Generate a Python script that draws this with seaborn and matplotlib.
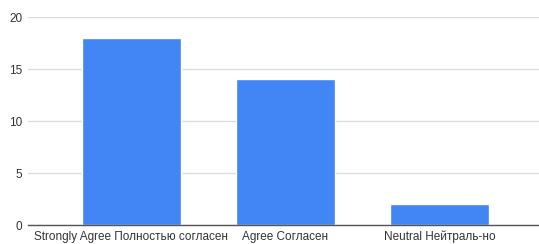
import matplotlib
matplotlib.use("Agg")
import matplotlib.pyplot as plt
import seaborn as sns
import pandas as pd

categories = ["Strongly Agree Полностью согласен", "Agree Согласен", "Neutral Нейтраль-но"]
values = [18, 14, 2]
yticks = [0, 5, 10, 15, 20]

sns.set_theme(style="white")
plt.rcParams['font.family'] = ['Liberation Sans', 'DejaVu Sans']

df = pd.DataFrame({"cat": categories, "val": values})

fig = plt.figure(figsize=(5.39, 2.44), dpi=100)
ax = fig.add_axes([28/539, 19/244, 1 - 28/539, 208/244])
sns.barplot(data=df, x="cat", y="val", color="#4285F4", saturation=1, width=0.643, ax=ax)

ax.set_xlim(-0.672, 2.646)
ax.set_ylim(0, 20)
ax.set_yticks(yticks)
ax.grid(axis="y", color="#dcdcdc", linewidth=1)
ax.set_axisbelow(True)
for s in ["top", "right", "left"]:
    ax.spines[s].set_visible(False)
ax.spines["bottom"].set_color("#555555")
ax.spines["bottom"].set_linewidth(1)
ax.tick_params(axis="both", length=0, labelsize=8.5, colors="#333333")
ax.tick_params(axis="y", pad=4)
ax.tick_params(axis="x", pad=4)
ax.set_xlabel("")
ax.set_ylabel("")

fig.savefig("out.png", dpi=100)
